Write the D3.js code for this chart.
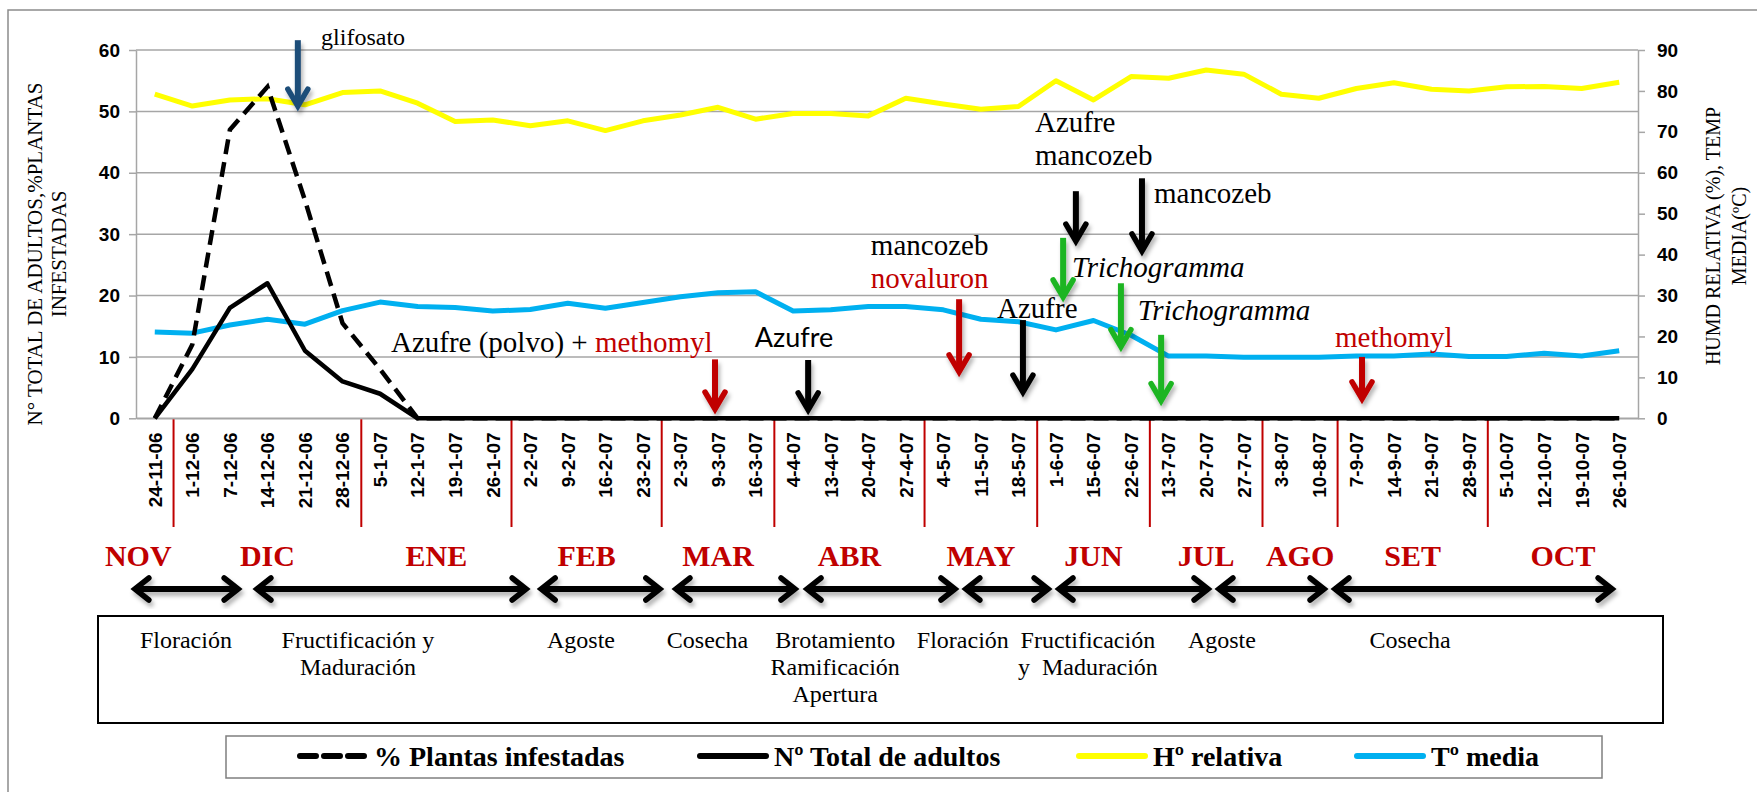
<!DOCTYPE html>
<html>
<head>
<meta charset="utf-8">
<script src="https://cdn.jsdelivr.net/npm/d3@7"></script>
<style>
  body { margin: 0; background: #fff; }
  svg { display: block; }
</style>
</head>
<body>
<div id="chart"></div>
<script>
// fechas de muestreo
var fechas = ["24-11-06", "1-12-06", "7-12-06", "14-12-06", "21-12-06", "28-12-06", "5-1-07", "12-1-07",
    "19-1-07", "26-1-07", "2-2-07", "9-2-07", "16-2-07", "23-2-07", "2-3-07", "9-3-07", "16-3-07",
    "4-4-07", "13-4-07", "20-4-07", "27-4-07", "4-5-07", "11-5-07", "18-5-07", "1-6-07", "15-6-07",
    "22-6-07", "13-7-07", "20-7-07", "27-7-07", "3-8-07", "10-8-07", "7-9-07", "14-9-07", "21-9-07",
    "28-9-07", "5-10-07", "12-10-07", "19-10-07", "26-10-07"];

var plantasInfestadas = [0, 12, 47, 54, 35.5, 15.5, 8, 0, 0, 0, 0, 0, 0, 0, 0, 0, 0, 0, 0, 0,
    0, 0, 0, 0, 0, 0, 0, 0, 0, 0, 0, 0, 0, 0, 0, 0, 0, 0, 0, 0];
var totalAdultos = [0, 8, 18, 22, 11, 6, 4, 0, 0, 0, 0, 0, 0, 0, 0, 0, 0, 0, 0, 0,
    0, 0, 0, 0, 0, 0, 0, 0, 0, 0, 0, 0, 0, 0, 0, 0, 0, 0, 0, 0];
var humedad = [79.2, 76.3, 77.8, 78.1, 76.6, 79.6, 80.0, 77.0, 72.5, 72.9, 71.5, 72.7, 70.3, 72.7,
    74.1, 76.0, 73.1, 74.5, 74.5, 73.9, 78.2, 76.8, 75.5, 76.2, 82.5, 77.8, 83.5, 83.1, 85.1, 84.1,
    79.2, 78.2, 80.6, 82.0, 80.4, 80.0, 81.0, 81.1, 80.6, 82.1];
var temperatura = [21.1, 20.8, 22.8, 24.2, 23.0, 26.3, 28.4, 27.3, 27.1, 26.2, 26.6, 28.1, 26.9, 28.3,
    29.7, 30.7, 30.9, 26.2, 26.5, 27.3, 27.3, 26.5, 24.2, 23.6, 21.6, 23.9, 20.3, 15.2, 15.2, 14.9,
    14.9, 14.9, 15.2, 15.2, 15.7, 15.1, 15.1, 15.9, 15.2, 16.5];

var ticksIzq = [0, 10, 20, 30, 40, 50, 60];
var ticksDer = [0, 10, 20, 30, 40, 50, 60, 70, 80, 90];

// meses: primer indice de fecha y numero de fechas
var meses = ["NOV", "DIC", "ENE", "FEB", "MAR", "ABR", "MAY", "JUN", "JUL", "AGO", "SET", "OCT"];
var mesInicio = [0, 1, 6, 10, 14, 17, 21, 24, 27, 30, 32, 36];
var mesFechas = [1, 5, 4, 4, 3, 4, 3, 3, 3, 2, 4, 4];

// fases del cultivo (en unidades de fecha)
var fases = [
    { texto: ["Floración"], centro: 0.83, desde: -0.61, hasta: 2.30 },
    { texto: ["Fructificación y", "Maduración"], centro: 5.41, desde: 2.64, hasta: 9.97 },
    { texto: ["Agoste"], centro: 11.35, desde: 10.21, hasta: 13.53 },
    { texto: ["Cosecha"], centro: 14.72, desde: 13.80, hasta: 17.13 },
    { texto: ["Brotamiento", "Ramificación", "Apertura"], centro: 18.12, desde: 17.29, hasta: 21.39 },
    { texto: ["Floración"], centro: 21.52, desde: 21.52, hasta: 23.87 },
    { texto: ["Fructificación", "y  Maduración"], centro: 24.85, desde: 24.0, hasta: 28.13 },
    { texto: ["Agoste"], centro: 28.42, desde: 28.26, hasta: 31.22 },
    { texto: ["Cosecha"], centro: 33.43, desde: 31.35, hasta: 38.89 }
];

// aplicaciones: flechas (fecha, valor eje izq. arriba y punta)
var flechas = [
    { en: 3.81, de: 61.6, a: 50.7, tipo: "herbicida" },
    { en: 14.92, de: 9.6, a: 1.35, tipo: "insecticida" },
    { en: 17.40, de: 9.5, a: 1.2, tipo: "fungicida" },
    { en: 21.42, de: 19.4, a: 7.4, tipo: "insecticida" },
    { en: 23.12, de: 16.0, a: 4.1, tipo: "fungicida" },
    { en: 24.53, de: 37.0, a: 28.7, tipo: "fungicida" },
    { en: 26.29, de: 39.1, a: 27.1, tipo: "fungicida" },
    { en: 24.19, de: 29.4, a: 19.6, tipo: "biologico" },
    { en: 25.73, de: 22.0, a: 11.5, tipo: "biologico" },
    { en: 26.80, de: 13.6, a: 2.7, tipo: "biologico" },
    { en: 32.15, de: 10.0, a: 3.0, tipo: "insecticida" }
];

var rotulos = [
    { partes: [["glifosato", "fungicida"]], en: 4.43, v: 60.8, estilo: "chico" },
    { partes: [["Azufre (polvo) + ", "fungicida"], ["methomyl", "insecticida"]], en: 6.29, v: 10.8 },
    { partes: [["Azufre", "fungicida"]], en: 15.98, v: 11.6, estilo: "sans" },
    { partes: [["mancozeb", "fungicida"]], en: 19.07, v: 26.6 },
    { partes: [["novaluron", "insecticida"]], en: 19.07, v: 21.2 },
    { partes: [["Azufre", "fungicida"]], en: 22.43, v: 16.3 },
    { partes: [["Azufre", "fungicida"]], en: 23.44, v: 46.6 },
    { partes: [["mancozeb", "fungicida"]], en: 23.44, v: 41.3 },
    { partes: [["mancozeb", "fungicida"]], en: 26.61, v: 35.1 },
    { partes: [["Trichogramma", "fungicida"]], en: 24.43, v: 23.0, estilo: "italica" },
    { partes: [["Trichogramma", "fungicida"]], en: 26.18, v: 16.0, estilo: "italica" },
    { partes: [["methomyl", "insecticida"]], en: 31.43, v: 11.6 }
];

function init() {
    var w = 1757, h = 792;
    var left = 136, right = 1638, top = 50, bottom = 418.3;
    var serif = "'Liberation Serif', 'Times New Roman', serif";
    var sans = "'Liberation Sans', Arial, sans-serif";
    var rojo = "#C00000";
    var colores = { herbicida: "#1F4E79", insecticida: rojo, fungicida: "#000", biologico: "#1FB524" };

    var svg = d3.select("#chart").append("svg")
        .attr("width", w).attr("height", h);

    var defs = svg.append("defs");
    defs.append("filter").attr("id", "sombra")
        .attr("x", "-20%").attr("y", "-20%").attr("width", "140%").attr("height", "160%")
        .append("feDropShadow")
        .attr("dx", 2).attr("dy", 4).attr("stdDeviation", 2)
        .attr("flood-color", "#000").attr("flood-opacity", 0.3);

    // marco exterior
    svg.append("path")
        .attr("d", "M8," + (h + 5) + "V10H" + (w + 5))
        .attr("fill", "none").attr("stroke", "#8c8c8c").attr("stroke-width", 1.5);

    var xScale = d3.scaleBand().domain(fechas).range([left, right]);
    var xi = d3.scaleLinear().domain([-0.5, fechas.length - 0.5]).range([left, right]);
    var yL = d3.scaleLinear().domain([0, 60]).range([bottom, top]);
    var yR = d3.scaleLinear().domain([0, 90]).range([bottom, top]);

    // lineas de cuadricula
    svg.append("g").selectAll("line")
        .data(ticksIzq)
        .enter().append("line")
        .attr("x1", left).attr("x2", right)
        .attr("y1", function (d) { return yL(d); })
        .attr("y2", function (d) { return yL(d); })
        .attr("stroke", "#a6a6a6").attr("stroke-width", 1.5);

    var axisL = svg.append("g")
        .attr("transform", "translate(" + left + ",0)")
        .call(d3.axisLeft(yL).tickValues(ticksIzq).tickSize(7).tickSizeOuter(0).tickPadding(9));
    axisL.selectAll("line, path").attr("stroke", "#a6a6a6").attr("stroke-width", 1.5);
    axisL.selectAll("text")
        .style("font-family", sans).style("font-weight", "bold").style("font-size", "19px").attr("fill", "#000");

    var axisR = svg.append("g")
        .attr("transform", "translate(" + right + ",0)")
        .call(d3.axisRight(yR).tickValues(ticksDer).tickSize(7).tickSizeOuter(0).tickPadding(12));
    axisR.selectAll("line, path").attr("stroke", "#a6a6a6").attr("stroke-width", 1.5);
    axisR.selectAll("text")
        .style("font-family", sans).style("font-weight", "bold").style("font-size", "19px").attr("fill", "#000");

    var axisB = svg.append("g")
        .attr("transform", "translate(0," + bottom + ")")
        .call(d3.axisBottom(xScale).tickSize(0).tickSizeOuter(0));
    axisB.select("path").attr("stroke", "#a6a6a6").attr("stroke-width", 1.5);
    axisB.selectAll("text")
        .attr("transform", "rotate(-90)")
        .attr("x", -14).attr("y", 0).attr("dy", "0.36em")
        .style("text-anchor", "end")
        .style("font-family", sans).style("font-weight", "bold").style("font-size", "19px").attr("fill", "#000");

    // separadores de meses
    svg.append("g").selectAll("line")
        .data(mesInicio.slice(1))
        .enter().append("line")
        .attr("x1", function (d) { return xScale(fechas[d]); })
        .attr("x2", function (d) { return xScale(fechas[d]); })
        .attr("y1", bottom + 1).attr("y2", 527)
        .attr("stroke", rojo).attr("stroke-width", 2);

    // series
    function linea(valores, escala) {
        return d3.line()
            .x(function (d, i) { return xScale(fechas[i]) + xScale.bandwidth() / 2; })
            .y(function (d) { return escala(d); })(valores);
    }
    svg.append("path").attr("d", linea(humedad, yR))
        .attr("fill", "none").attr("stroke", "#FFFF00").attr("stroke-width", 5).attr("stroke-linejoin", "round");
    svg.append("path").attr("d", linea(temperatura, yR))
        .attr("fill", "none").attr("stroke", "#00B0F0").attr("stroke-width", 5).attr("stroke-linejoin", "round");
    svg.append("path").attr("d", linea(plantasInfestadas, yL))
        .attr("fill", "none").attr("stroke", "#000").attr("stroke-width", 4.5)
        .attr("stroke-dasharray", "15,8");
    svg.append("path").attr("d", linea(totalAdultos, yL))
        .attr("fill", "none").attr("stroke", "#000").attr("stroke-width", 4.5).attr("stroke-linejoin", "round");

    // flechas de aplicaciones
    var gf = svg.append("g").attr("filter", "url(#sombra)");
    flechas.forEach(function (f) {
        var x = xi(f.en), y1 = yL(f.de), y2 = yL(f.a);
        var c = colores[f.tipo];
        gf.append("line").attr("x1", x).attr("x2", x).attr("y1", y1).attr("y2", y2 - 3)
            .attr("stroke", c).attr("stroke-width", 6);
        gf.append("path")
            .attr("d", "M" + (x - 10) + "," + (y2 - 18) + "L" + x + "," + (y2 - 1) + "L" + (x + 10) + "," + (y2 - 18))
            .attr("fill", "none").attr("stroke", c).attr("stroke-width", 5.5)
            .attr("stroke-linecap", "round").attr("stroke-linejoin", "miter");
    });

    rotulos.forEach(function (r) {
        var t = svg.append("text")
            .attr("x", xi(r.en)).attr("y", yL(r.v))
            .style("font-family", r.estilo == "sans" ? "Lato, 'Open Sans', sans-serif" : serif)
            .style("font-size", r.estilo == "chico" ? "24px" : (r.estilo == "sans" ? "27px" : "29px"))
            .style("font-style", r.estilo == "italica" ? "italic" : "normal")
            .style("white-space", "pre");
        r.partes.forEach(function (p) {
            t.append("tspan").attr("fill", p[1] == "insecticida" ? rojo : "#000").text(p[0]);
        });
    });

    // meses
    svg.append("g").selectAll("text")
        .data(meses)
        .enter().append("text")
        .attr("y", 566)
        .style("font-family", serif).style("font-weight", "bold").style("font-size", "30px")
        .attr("fill", rojo)
        .text(function (d) { return d; })
        .each(function (d, i) {
            var ancho = this.getComputedTextLength();
            var ini = xi(mesInicio[i] - 0.5), fin = xi(mesInicio[i] + mesFechas[i] - 0.5);
            if (ancho > fin - ini) {
                d3.select(this).attr("x", fin - 2).style("text-anchor", "end");
            } else {
                d3.select(this).attr("x", (ini + fin) / 2).style("text-anchor", "middle");
            }
        });

    // flechas de fases
    var ga = svg.append("g").attr("filter", "url(#sombra)");
    var yA = 589;
    fases.forEach(function (f) {
        var x1 = xi(f.desde), x2 = xi(f.hasta);
        ga.append("line").attr("x1", x1 + 3).attr("x2", x2 - 3).attr("y1", yA).attr("y2", yA)
            .attr("stroke", "#000").attr("stroke-width", 6);
        ga.append("path")
            .attr("d", "M" + (x1 + 17) + "," + (yA - 11) + "L" + (x1 + 3) + "," + yA + "L" + (x1 + 17) + "," + (yA + 11) +
                "M" + (x2 - 17) + "," + (yA - 11) + "L" + (x2 - 3) + "," + yA + "L" + (x2 - 17) + "," + (yA + 11))
            .attr("fill", "none").attr("stroke", "#000").attr("stroke-width", 5.5)
            .attr("stroke-linecap", "round");
    });

    // caja de fases
    svg.append("rect")
        .attr("x", 98).attr("y", 616).attr("width", 1565).attr("height", 107)
        .attr("fill", "none").attr("stroke", "#000").attr("stroke-width", 2);

    fases.forEach(function (f) {
        f.texto.forEach(function (linea, j) {
            svg.append("text")
                .attr("x", xi(f.centro)).attr("y", 648 + j * 27)
                .style("text-anchor", "middle").style("white-space", "pre")
                .style("font-family", serif).style("font-size", "24px")
                .text(linea);
        });
    });

    // titulos de ejes
    var tIzq = svg.append("g").attr("transform", "translate(42,254) rotate(-90)")
        .style("font-family", serif).style("font-size", "21px").style("text-anchor", "middle");
    tIzq.append("text").attr("y", 0).text("N° TOTAL DE ADULTOS,%PLANTAS");
    tIzq.append("text").attr("y", 24).text("INFESTADAS");

    var tDer = svg.append("g").attr("transform", "translate(1720,236) rotate(-90)")
        .style("font-family", serif).style("font-size", "20px").style("text-anchor", "middle")
        .style("white-space", "pre");
    tDer.append("text").attr("y", 0).text("HUMD RELATIVA (%),  TEMP");
    tDer.append("text").attr("y", 26).text("MEDIA(ºC)");

    // leyenda
    svg.append("rect")
        .attr("x", 226).attr("y", 736).attr("width", 1376).attr("height", 42)
        .attr("fill", "none").attr("stroke", "#7f7f7f").attr("stroke-width", 1.5);

    var leyenda = [
        { nombre: "% Plantas infestadas", color: "#000", guiones: "16,8", x: 297 },
        { nombre: "Nº Total de adultos", color: "#000", guiones: null, x: 697 },
        { nombre: "Hº relativa", color: "#FFFF00", guiones: null, x: 1076 },
        { nombre: "Tº media", color: "#00B0F0", guiones: null, x: 1354 }
    ];
    var gl = svg.append("g").selectAll("g")
        .data(leyenda)
        .enter().append("g");
    gl.append("line")
        .attr("x1", function (d) { return d.x + 3; })
        .attr("x2", function (d) { return d.x + 69; })
        .attr("y1", 756).attr("y2", 756)
        .attr("stroke", function (d) { return d.color; })
        .attr("stroke-width", 6).attr("stroke-linecap", "round")
        .attr("stroke-dasharray", function (d) { return d.guiones; });
    gl.append("text")
        .attr("x", function (d) { return d.x + 77; })
        .attr("y", 766)
        .style("font-family", serif).style("font-weight", "bold").style("font-size", "28px")
        .text(function (d) { return d.nombre; });
}

window.onload = init;
</script>
</body>
</html>
